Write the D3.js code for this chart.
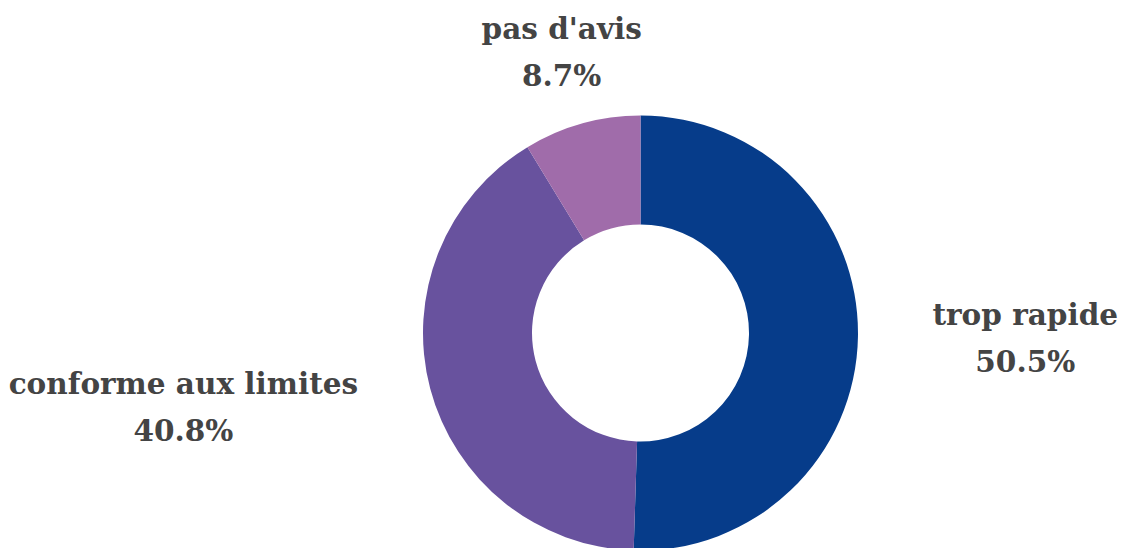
<!DOCTYPE html>
<meta charset="utf-8">
<style>
body { margin: 0; background: #fff; }
.label { font-family: "DejaVu Serif", serif; font-weight: bold; font-size: 29.5px; fill: #444; }
</style>
<body>
<script src="https://d3js.org/d3.v7.min.js"></script>
<script>

// data
var categories = ["trop rapide", "conforme aux limites", "pas d'avis"];
var values = [50.5, 40.8, 8.7];
var colors = ["#063c8a", "#68529e", "#a06caa"];

var width = 1123, height = 548;
var cx = 640.5, cy = 333,
    outerR = 217.5, innerR = 108.5, labelR = 292;

var svg = d3.select("body").append("svg")
    .attr("width", width)
    .attr("height", height)
  .append("g")
    .attr("transform", "translate(" + cx + "," + cy + ")");

var pie = d3.pie().sort(null).value(function(d) { return d; });
var arcs = pie(values);

var arc = d3.arc().innerRadius(innerR).outerRadius(outerR);

svg.selectAll("path")
    .data(arcs)
  .enter().append("path")
    .attr("d", arc)
    .attr("fill", function(d, i) { return colors[i]; });

// labels placed along the slice mid angle
var lineH = 47;
arcs.forEach(function(d, i) {
  var a = (d.startAngle + d.endAngle) / 2;
  var x = Math.sin(a) * labelR, y = -Math.cos(a) * labelR;
  var g = svg.append("text").attr("class", "label");
  var t1 = g.append("tspan").attr("y", y - 13).text(categories[i]);
  var t2 = g.append("tspan").attr("y", y - 13 + lineH).text(values[i].toFixed(1) + "%");
  var w = t1.node().getComputedTextLength();
  var mid = x;
  if (Math.abs(Math.sin(a)) > 0.5) mid = Math.sin(a) > 0 ? x + w / 2 : x - w / 2;
  t1.attr("x", mid).attr("text-anchor", "middle");
  t2.attr("x", mid).attr("text-anchor", "middle");
});

</script>
</body>
